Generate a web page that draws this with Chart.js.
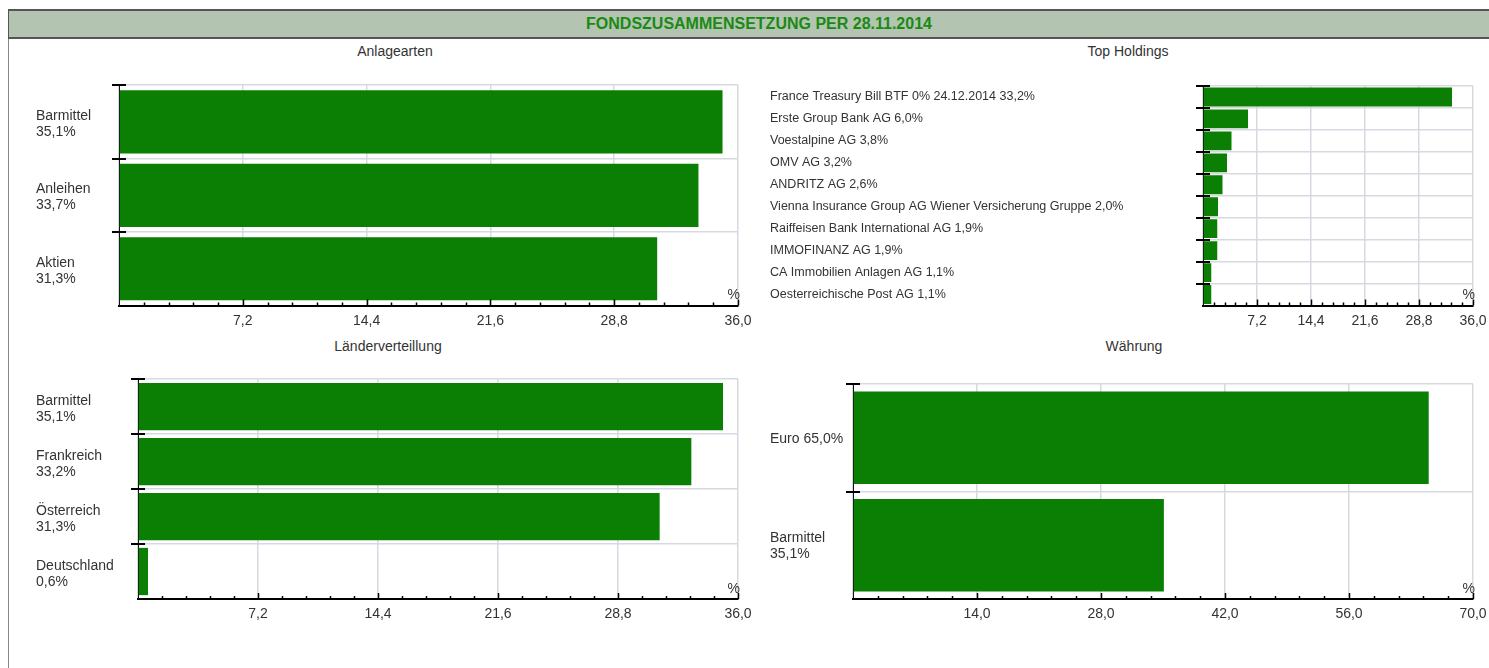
<!DOCTYPE html>
<html>
<head>
<meta charset="utf-8">
<script src="https://cdn.jsdelivr.net/npm/chart.js@4"></script>
<style>
  html, body { margin: 0; padding: 0; overflow: hidden; background: #fff; }
  body { width: 1489px; height: 668px; position: relative; font-family: "Liberation Sans", Arial, sans-serif; }
  #frame { position: absolute; left: 8px; top: 9px; width: 1500px; height: 700px; border-left: 1px solid #888; }
  #head { position: absolute; left: 8px; top: 9px; width: 1500px; height: 26px; background: #b3c4b1;
          border-top: 2px solid #555; border-bottom: 2px solid #555; border-left: 1px solid #555;
          color: #1a8a14; font-weight: bold; font-size: 16px; line-height: 26px; text-align: center; }
  .title { position: absolute; font-size: 14px; color: #333; transform: translateX(-50%); white-space: nowrap; }
  canvas { position: absolute; }
</style>
</head>
<body>
<div id="frame"></div>
<div id="head">FONDSZUSAMMENSETZUNG PER 28.11.2014</div>
<div class="title" style="left:395px; top:43px;">Anlagearten</div>
<div class="title" style="left:1128px; top:43px;">Top Holdings</div>
<div class="title" style="left:388px; top:338px;">Länderverteillung</div>
<div class="title" style="left:1134px; top:338px;">Währung</div>
<canvas id="c1" width="730" height="274" style="left:30px; top:66px;"></canvas>
<canvas id="c2" width="733" height="270" style="left:764px; top:70px;"></canvas>
<canvas id="c3" width="730" height="275" style="left:30px; top:360px;"></canvas>
<canvas id="c4" width="733" height="270" style="left:764px; top:365px;"></canvas>
<script>
// Anlagearten
const anlageLabels = [['Barmittel', '35,1%'], ['Anleihen', '33,7%'], ['Aktien', '31,3%']];
const anlageValues = [35.1, 33.7, 31.3];

// Top Holdings
const holdingLabels = [
  'France Treasury Bill BTF 0% 24.12.2014 33,2%',
  'Erste Group Bank AG 6,0%',
  'Voestalpine AG 3,8%',
  'OMV AG 3,2%',
  'ANDRITZ AG 2,6%',
  'Vienna Insurance Group AG Wiener Versicherung Gruppe 2,0%',
  'Raiffeisen Bank International AG 1,9%',
  'IMMOFINANZ AG 1,9%',
  'CA Immobilien Anlagen AG 1,1%',
  'Oesterreichische Post AG 1,1%'
];
const holdingValues = [33.2, 6.0, 3.8, 3.2, 2.6, 2.0, 1.9, 1.9, 1.1, 1.1];

// Länderverteillung
const laenderLabels = [['Barmittel', '35,1%'], ['Frankreich', '33,2%'], ['Österreich', '31,3%'], ['Deutschland', '0,6%']];
const laenderValues = [35.1, 33.2, 31.3, 0.6];

// Währung
const waehrungLabels = ['Euro 65,0%', ['Barmittel', '35,1%']];
const waehrungValues = [65.0, 35.1];

// x axis ranges
const pctMax36 = 36, pctStep36 = 7.2;
const pctMax70 = 70, pctStep70 = 14;

Chart.defaults.font.family = '"Liberation Sans", Arial, sans-serif';
Chart.defaults.color = '#333';

const BAR = '#0b7f03';
const GRID = '#d6d9e1';

// black tick marks across the axes and the % sign
const axisMarks = {
  id: 'axisMarks',
  afterDraw(chart, args, opts) {
    const { ctx } = chart;
    const x = chart.scales.x, y = chart.scales.y;
    ctx.save();
    ctx.strokeStyle = '#000';
    ctx.lineWidth = 2;
    const n = chart.data.labels.length;
    for (let i = 0; i < n; i++) {
      const py = Math.round(y.getPixelForValue(i - 0.5));
      ctx.beginPath();
      ctx.moveTo(x.left - 7, py);
      ctx.lineTo(x.left + 7, py);
      ctx.stroke();
    }
    const minor = opts.step / 5;
    const count = Math.round(x.max / minor);
    ctx.lineWidth = 1.5;
    for (let k = 1; k <= count; k++) {
      const px = Math.round(x.getPixelForValue(k * minor)) + 0.5;
      const len = k % 5 === 0 ? 6 : 3;
      ctx.beginPath();
      ctx.moveTo(px, y.bottom);
      ctx.lineTo(px, y.bottom - len);
      ctx.stroke();
    }
    ctx.fillStyle = '#333';
    ctx.font = '14px "Liberation Sans", Arial, sans-serif';
    ctx.textAlign = 'right';
    ctx.textBaseline = 'bottom';
    ctx.fillText('%', x.right + 2, y.bottom - 3);
    ctx.restore();
  }
};

function makeChart(id, labels, values, max, step, cfg) {
  return new Chart(document.getElementById(id), {
    type: 'bar',
    data: {
      labels: labels,
      datasets: [{
        data: values,
        backgroundColor: BAR,
        borderWidth: 0,
        barPercentage: 0.86,
        categoryPercentage: 1
      }]
    },
    plugins: [axisMarks],
    options: {
      indexAxis: 'y',
      responsive: false,
      animation: false,
      devicePixelRatio: 1,
      layout: { padding: { left: 6, top: cfg.top, right: cfg.right, bottom: 0 } },
      plugins: {
        legend: { display: false },
        tooltip: { enabled: false },
        axisMarks: { step: step }
      },
      scales: {
        x: {
          min: 0,
          max: max,
          afterFit: (s) => { s.height = cfg.xh; },
          grid: { color: GRID, lineWidth: 1.5, drawTicks: false },
          border: { color: '#000', width: 2 },
          ticks: {
            stepSize: step,
            autoSkip: false,
            maxRotation: 0,
            padding: 7,
            font: { size: 14 },
            color: '#333',
            callback: (v) => v === 0 ? '' : Number(v).toFixed(1).replace('.', ',')
          }
        },
        y: {
          afterFit: (s) => { s.width = cfg.yw; },
          grid: { color: GRID, lineWidth: 1.5, drawTicks: false, offset: true },
          border: { color: '#111', width: 1 },
          ticks: {
            autoSkip: false,
            crossAlign: 'far',
            labelOffset: cfg.lo || 0,
            font: { size: cfg.fs, lineHeight: 1.15 },
            color: '#333'
          }
        }
      }
    }
  });
}

makeChart('c1', anlageLabels, anlageValues, pctMax36, pctStep36, { top: 16, right: 22, xh: 34.5, yw: 83, fs: 14, lo: 2 });
makeChart('c2', holdingLabels, holdingValues, pctMax36, pctStep36, { top: 16, right: 24, xh: 34.5, yw: 433, fs: 12.5 });
makeChart('c3', laenderLabels, laenderValues, pctMax36, pctStep36, { top: 14, right: 22, xh: 36, yw: 102, fs: 14, lo: 3 });
makeChart('c4', waehrungLabels, waehrungValues, pctMax70, pctStep70, { top: 14, right: 24, xh: 36, yw: 83, fs: 14, lo: 1 });
</script>
</body>
</html>
